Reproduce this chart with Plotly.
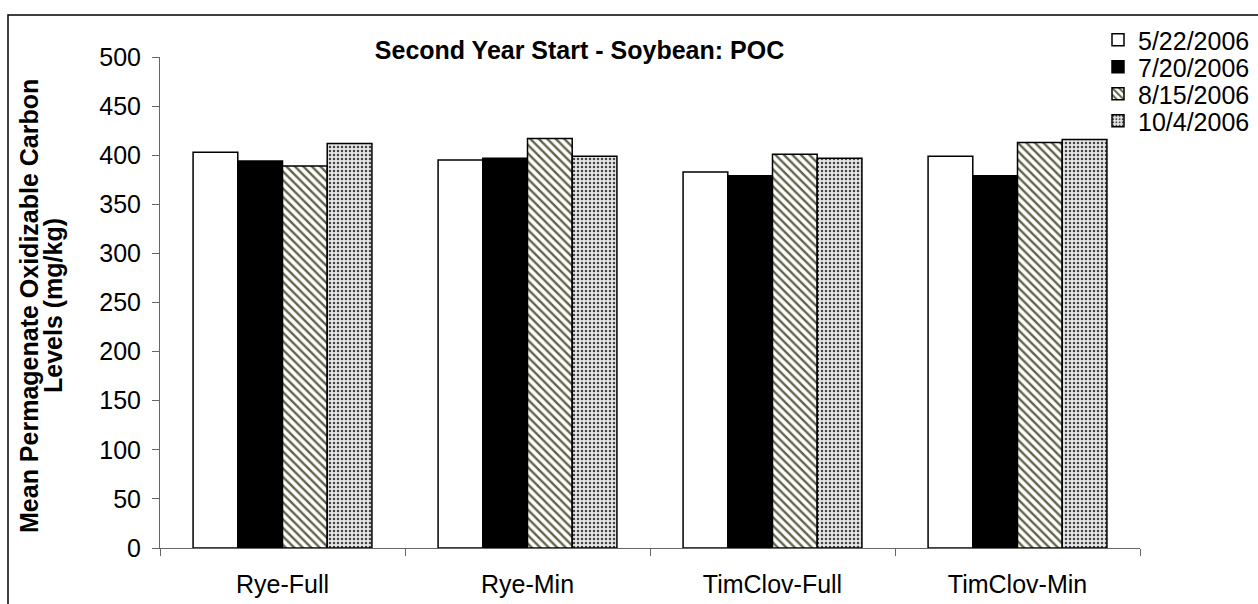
import plotly.graph_objects as go

# Treatment categories and sampling dates
categories = ["Rye-Full", "Rye-Min", "TimClov-Full", "TimClov-Min"]
dates = ["5/22/2006", "7/20/2006", "8/15/2006", "10/4/2006"]

# Mean permanganate oxidizable carbon (mg/kg) per date
poc_0522 = [403, 395, 383, 399]
poc_0720 = [394, 397, 379, 379]
poc_0815 = [389, 417, 401, 413]
poc_1004 = [412, 399, 397, 416]

y_ticks = [0, 50, 100, 150, 200, 250, 300, 350, 400, 450, 500]

FONT = "Liberation Sans, Arial, sans-serif"
FS = 25

styles = [
    dict(color="white", pattern=None),
    dict(color="black", pattern=None),
    dict(color="white", pattern=dict(shape="\\", fgcolor="#63634a", bgcolor="white",
                                     size=6, solidity=0.4, fillmode="replace")),
    dict(color="#e6e6e6", pattern=dict(shape=".", fgcolor="#444444", bgcolor="#e6e6e6",
                                       size=4, solidity=0.3, fillmode="replace")),
]

W, H = 1258, 604
L, R, T, B = 160, 118, 57, 56
pw, ph = W - L - R, H - T - B

def px_x(x):
    return (x - L) / pw

def px_y(y):
    return (H - B - y) / ph

# each legend entry sits in its own legend box so the row spacing can be set
legend_rows = [40, 67, 94, 121]
legend_ids = ["legend", "legend2", "legend3", "legend4"]

fig = go.Figure()
for name, vals, st, lid in zip(dates, [poc_0522, poc_0720, poc_0815, poc_1004], styles, legend_ids):
    marker = dict(color=st["color"], line=dict(color="black", width=1.5))
    if st["pattern"] is not None:
        marker["pattern"] = st["pattern"]
    fig.add_trace(go.Bar(name=name, x=categories, y=vals, marker=marker, legend=lid))

legend_common = dict(xanchor="left", yanchor="middle",
                     font=dict(family=FONT, size=FS, color="black"),
                     bgcolor="rgba(0,0,0,0)")

fig.update_layout(
    width=W, height=H,
    margin=dict(l=L, r=R, t=T, b=B, autoexpand=False),
    paper_bgcolor="white", plot_bgcolor="white",
    barmode="group", bargap=0.27, bargroupgap=0,
    font=dict(family=FONT, size=FS, color="black"),
    title=dict(text="<b>Second Year Start - Soybean: POC</b>",
               xref="container", yref="container",
               x=579.5 / W, y=1 - 50 / H, xanchor="center", yanchor="middle",
               font=dict(family=FONT, size=FS, color="black")),
    showlegend=True,
)
for lid, row in zip(legend_ids, legend_rows):
    fig.update_layout({lid: dict(x=px_x(1098), y=px_y(row), **legend_common)})

fig.update_xaxes(
    type="category", showline=True, linecolor="#666666", linewidth=1,
    ticks="outside", tickson="boundaries", ticklen=7, tickcolor="#666666",
    showgrid=False, zeroline=False, ticklabelstandoff=14, automargin=False,
    tickfont=dict(family=FONT, size=FS, color="black"),
)
fig.update_yaxes(
    range=[0, 500], tickvals=y_ticks, showline=True, linecolor="#666666", linewidth=1,
    ticks="outside", ticklen=7, tickcolor="#666666", showgrid=False, zeroline=False,
    ticklabelstandoff=6, automargin=False,
    tickfont=dict(family=FONT, size=FS, color="black"),
)

# Two-line rotated y-axis title
fig.add_annotation(text="<b>Mean Permagenate Oxidizable Carbon</b>", textangle=-90,
                   xref="paper", yref="paper", x=px_x(29), y=px_y(306),
                   showarrow=False, xanchor="center", yanchor="middle",
                   font=dict(family=FONT, size=FS, color="black"))
fig.add_annotation(text="<b>Levels (mg/kg)</b>", textangle=-90,
                   xref="paper", yref="paper", x=px_x(53), y=px_y(306),
                   showarrow=False, xanchor="center", yanchor="middle",
                   font=dict(family=FONT, size=FS, color="black"))

# Chart frame
fig.add_shape(type="rect", xref="paper", yref="paper",
              x0=px_x(8), x1=px_x(1400), y0=px_y(700), y1=px_y(15),
              line=dict(color="black", width=1.5), fillcolor="rgba(0,0,0,0)", layer="below")

fig.write_html("out.html")
